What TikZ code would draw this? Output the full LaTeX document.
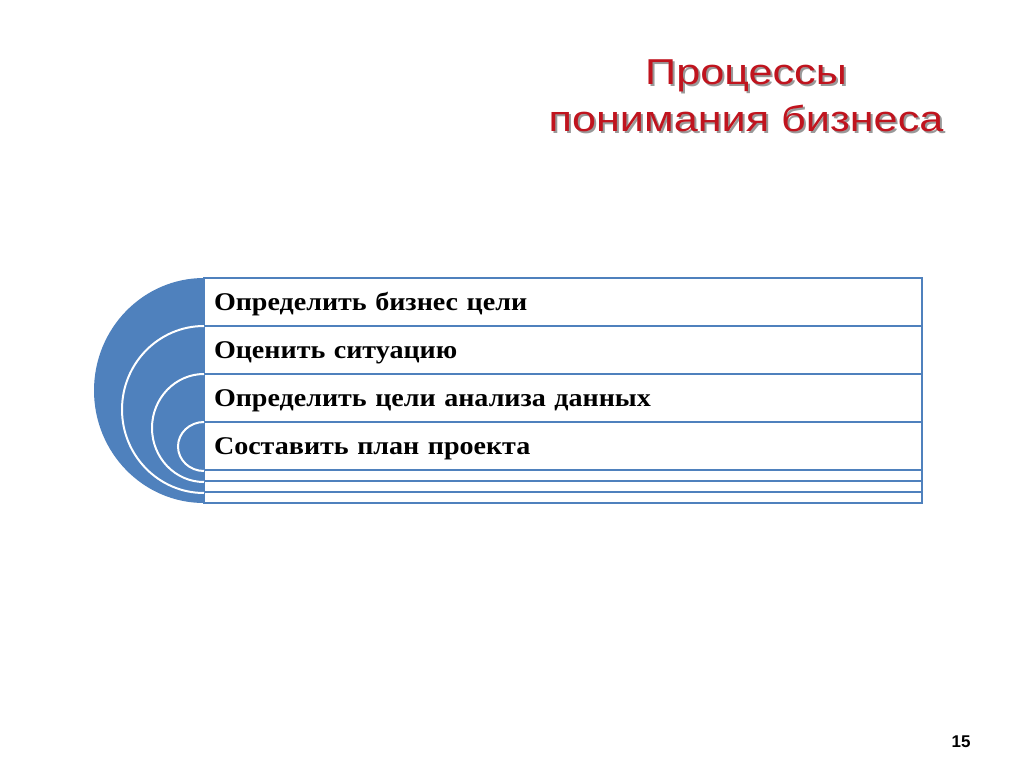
\documentclass[tikz,border=0pt]{standalone}
\usepackage{fontspec}
\setmainfont{Liberation Serif}
\newfontfamily\rowfont{Liberation Serif}[FakeStretch=1.1]
\newfontfamily\titlefont{Liberation Sans}[FakeStretch=1.2]
\newfontfamily\numfont{Liberation Sans}
\usetikzlibrary{positioning}
\definecolor{boxblue}{RGB}{79,129,189}
\definecolor{titlered}{RGB}{192,20,30}
\begin{document}
\begin{tikzpicture}[x=1pt,y=-1pt,
	rowbox/.style={draw=boxblue,line width=2pt,fill=white,text width=698pt,align=left,outer sep=0pt,
		inner xsep=10pt,inner ysep=0pt,minimum height=#1,font=\rowfont\bfseries\fontsize{25.5}{28}\selectfont},
	rowbox/.default=48pt,
	listrow/.style={rowbox,text height=18pt,text depth=2pt},
	titletext/.style={align=center,font=\titlefont\fontsize{36}{47}\selectfont}]
	\useasboundingbox[fill=white] (0,0) rectangle (1024,767);
	% rows of the list
	\node [listrow,anchor=north west] (goals) at (204,278) {Определить бизнес цели};
	\node [listrow,below=0pt of goals] (situation) {Оценить ситуацию};
	\node [listrow,below=0pt of situation] (dataaims) {Определить цели анализа данных};
	\node [listrow,below=0pt of dataaims] (plan) {Составить план проекта};
	\node [rowbox=11pt,below=0pt of plan] (spareA) {};
	\node [rowbox=11pt,below=0pt of spareA] (spareB) {};
	\node [rowbox=11pt,below=0pt of spareB] (spareC) {};
	% nested arcs
	\fill [boxblue] (goals.north west) arc [start angle=90,end angle=270,x radius=110pt,y radius=112.5pt] -- cycle;
	\draw [white,line width=2pt] (situation.north west) arc [start angle=90,end angle=270,x radius=82pt,y radius=83.5pt];
	\draw [white,line width=2pt] (dataaims.north west) arc [start angle=90,end angle=270,x radius=52pt,y radius=54pt];
	\draw [white,line width=2pt] (plan.north west) arc [start angle=90,end angle=270,x radius=26pt,y radius=24.5pt];
	% title
	\node [titletext,text=black!40] at (748,98) {Процессы\\понимания бизнеса};
	\node [titletext,text=titlered] (title) at (746,96) {Процессы\\понимания бизнеса};
	\node [font=\numfont\bfseries\fontsize{17}{20}\selectfont] (pagenum) at (961,742) {15};
\end{tikzpicture}
\end{document}
